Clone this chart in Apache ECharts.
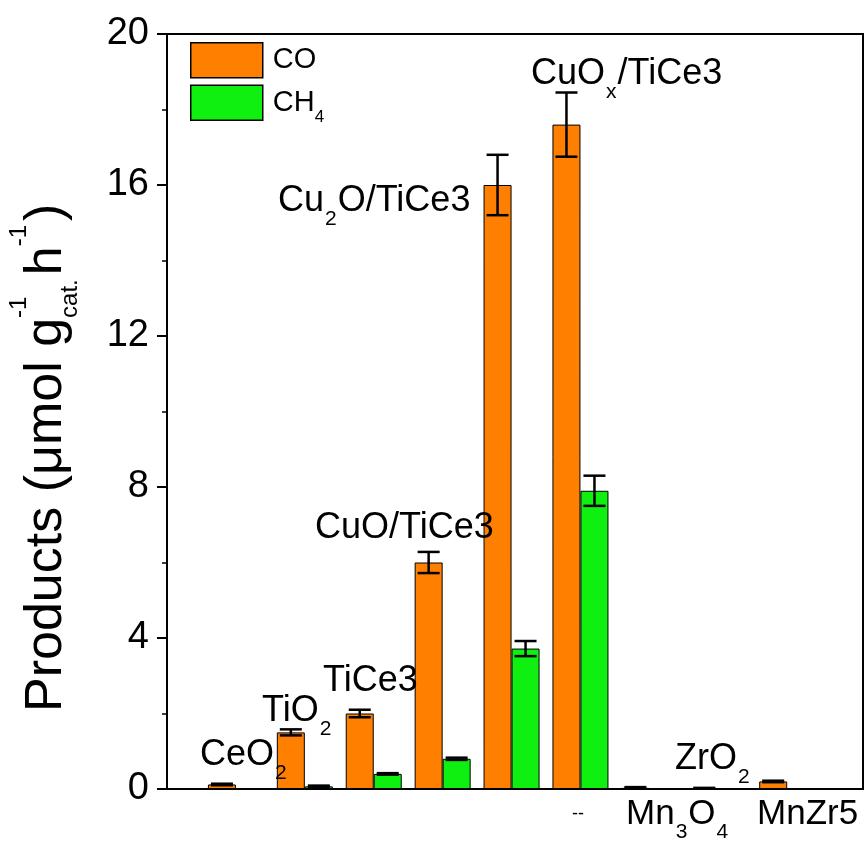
<!DOCTYPE html>
<html><head><meta charset="utf-8">
<script src="https://cdn.jsdelivr.net/npm/echarts@6/dist/echarts.min.js"></script>
<style>html,body{margin:0;padding:0;background:#fff}#c{width:868px;height:844px}</style>
</head><body><div id="c"></div>
<script>
// ---------------- data ----------------
const categories = ['CeO2','TiO2','TiCe3','CuO/TiCe3','Cu2O/TiCe3','CuOx/TiCe3','Mn3O4','ZrO2','MnZr5'];
const groupX = [1,2,3,4,5,6,7,8,9];
const coValues  = [0.12, 1.5, 2.0, 6.0, 16.0, 17.6, 0.03, 0.02, 0.2];
const coErrors  = [0.02, 0.08, 0.1, 0.28, 0.8, 0.85, 0.02, 0.01, 0.02];
const ch4Values = [0, 0.07, 0.4, 0.8, 3.72, 7.9, 0, 0, 0];
const ch4Errors = [0, 0.02, 0.02, 0.03, 0.2, 0.4, 0, 0, 0];
const yTicks = [0, 4, 8, 12, 16, 20];
const seriesNames = ['CO', 'CH4'];

// annotation texts: [text, 0 normal | 1 subscript]
const annoParts = [
  [['CeO',0],['2',1]],
  [['TiO',0],['2',1]],
  [['TiCe3',0]],
  [['CuO/TiCe3',0]],
  [['Cu',0],['2',1],['O/TiCe3',0]],
  [['CuO',0],['x',1],['/TiCe3',0]],
  [['ZrO',0],['2',1]],
  [['Mn',0],['3',1],['O',0],['4',1]],
  [['MnZr5',0]],
  [['--',0]]
];
// annotation anchors (left, baseline) in axis units
const annoAt = [[0.479,0.61],[1.379,1.775],[2.264,2.57],[2.148,6.62],[1.611,15.28],[5.282,18.65],[7.372,0.503],[6.661,-0.954],[8.562,-0.954],[5.877,-0.82]];
const annoFont = [36,36,36,36,36,36,36,35,35,18];

// y title parts
const yTitleParts = [['Products (\u03bcmol g','n'],['-1','sup'],['cat.','sub'],['h','n'],['-1','sup'],[')','n']];

// ---------------- styles ----------------
const FF = '"Liberation Sans", Arial, sans-serif';
const ORANGE = '#ff8000', GREEN = '#10f010';
const BARW = 28;
const SUBF = 21, SUBDY = 14;

const mctx = document.createElement('canvas').getContext('2d');
function tw(t, size){ mctx.font = size + 'px ' + FF; return mctx.measureText(t).width; }

const chart = echarts.init(document.getElementById('c'), null, {renderer:'canvas'});

function makeErr(values, errors, offset, name){
  return {
    type:'custom', name: name, z: 5, silent: true, clip: false,
    data: groupX.map((x,i)=>[x, values[i], errors[i]]),
    renderItem(params, api){
      const x = api.value(0), v = api.value(1), e = api.value(2);
      if (!e) return null;
      const cx = api.coord([x, v])[0] + offset;
      const top = api.coord([x, v + e])[1], bot = api.coord([x, v - e])[1];
      const st = {stroke:'#000', lineWidth:2.5};
      const hw = 11;
      return {type:'group', children:[
        {type:'line', shape:{x1:cx,y1:top,x2:cx,y2:bot}, style:st},
        {type:'line', shape:{x1:cx-hw,y1:top,x2:cx+hw,y2:top}, style:st},
        {type:'line', shape:{x1:cx-hw,y1:bot,x2:cx+hw,y2:bot}, style:st}
      ]};
    }
  };
}

function textEl(text, x, yBase, size){
  return {type:'text', x:x, y:yBase - 0.31*size, style:{text:text, font: size+'px '+FF, fill:'#000', align:'left', verticalAlign:'middle'}};
}

const annoSeries = {
  type:'custom', name:'anno', z: 6, silent: true, clip: false,
  data: annoAt.map(p=>[p[0], p[1]]),
  renderItem(params, api){
    const i = params.dataIndex;
    const p = api.coord([api.value(0), api.value(1)]);
    const F = annoFont[i];
    let x = p[0];
    const kids = [];
    annoParts[i].forEach(([t, s])=>{
      if (s === 1){
        x += 1;
        kids.push(textEl(t, x, p[1] + SUBDY, SUBF));
        x += tw(t, SUBF) + 1;
      } else {
        kids.push(textEl(t, x, p[1], F));
        x += tw(t, F);
      }
    });
    return {type:'group', children:kids};
  }
};

// y title
const TF = 52, TSUP = 24;
const titleKids = [];
(function(){
  let tx = 0;
  for (let k = 0; k < yTitleParts.length; k++){
    const [t, s] = yTitleParts[k];
    if (s === 'n'){
      if (k > 0 && yTitleParts[k-1][1] !== 'n') tx += 4;
      titleKids.push(textEl(t, tx, 0, TF)); tx += tw(t, TF);
    } else if (s === 'sup'){
      const nxt = yTitleParts[k+1];
      titleKids.push(textEl(t, tx, -36, TSUP));
      let w = tw(t, TSUP);
      if (nxt && nxt[1] === 'sub'){
        titleKids.push(textEl(nxt[0], tx, 15, TSUP));
        w = Math.max(w, tw(nxt[0], TSUP));
        k++;
      }
      tx += w;
    } else {
      titleKids.push(textEl(t, tx, 15, TSUP)); tx += tw(t, TSUP);
    }
  }
})();

const option = {
  animation: false,
  backgroundColor: '#fff',
  grid: {left:167, right:5, top:34, bottom:55, show:true, borderColor:'#000', borderWidth:2, backgroundColor:'transparent'},
  legend: {
    data: seriesNames, orient:'vertical', left:185, top:37,
    itemWidth:72, itemHeight:35, itemGap:6, icon:'rect',
    itemStyle:{borderColor:'#000', borderWidth:1.5},
    textStyle:{fontSize:29, fontFamily:FF, color:'#000', padding:[0,0,0,5],
      rich:{s:{fontSize:17, fontFamily:FF, color:'#000', padding:[30,0,0,0]}}},
    formatter: n => n === 'CH4' ? 'CH{s|4}' : n
  },
  xAxis: {
    type:'value', min:0, max:10.1,
    axisLine:{show:true, lineStyle:{color:'#000', width:2}},
    axisTick:{show:false}, axisLabel:{show:false}, splitLine:{show:false}
  },
  yAxis: {
    type:'value', min:yTicks[0], max:yTicks[yTicks.length-1], interval:4,
    axisLine:{show:true, lineStyle:{color:'#000', width:2}},
    axisTick:{show:true, inside:false, length:10, lineStyle:{color:'#000', width:2}},
    minorTick:{show:true, splitNumber:2, length:5, lineStyle:{color:'#000', width:1.5}},
    axisLabel:{fontSize:38, fontFamily:FF, color:'#000', margin:18},
    splitLine:{show:false}
  },
  graphic: [{
    type:'group', x:63, y:712, rotation: Math.PI/2, children: titleKids
  }],
  series: [
    {type:'bar', name:'CO', barWidth:BARW, barGap:'0%', data: groupX.map((x,i)=>[x, coValues[i]]),
      itemStyle:{color:ORANGE, borderColor:'#000', borderWidth:1}},
    {type:'bar', name:'CH4', barWidth:BARW, barGap:'0%', data: groupX.map((x,i)=>[x, ch4Values[i]]),
      itemStyle:{color:GREEN, borderColor:'#000', borderWidth:1}},
    makeErr(coValues, coErrors, -BARW/2, 'errCO'),
    makeErr(ch4Values, ch4Errors, BARW/2, 'errCH4'),
    annoSeries
  ]
};
chart.setOption(option);
</script>
</body></html>
